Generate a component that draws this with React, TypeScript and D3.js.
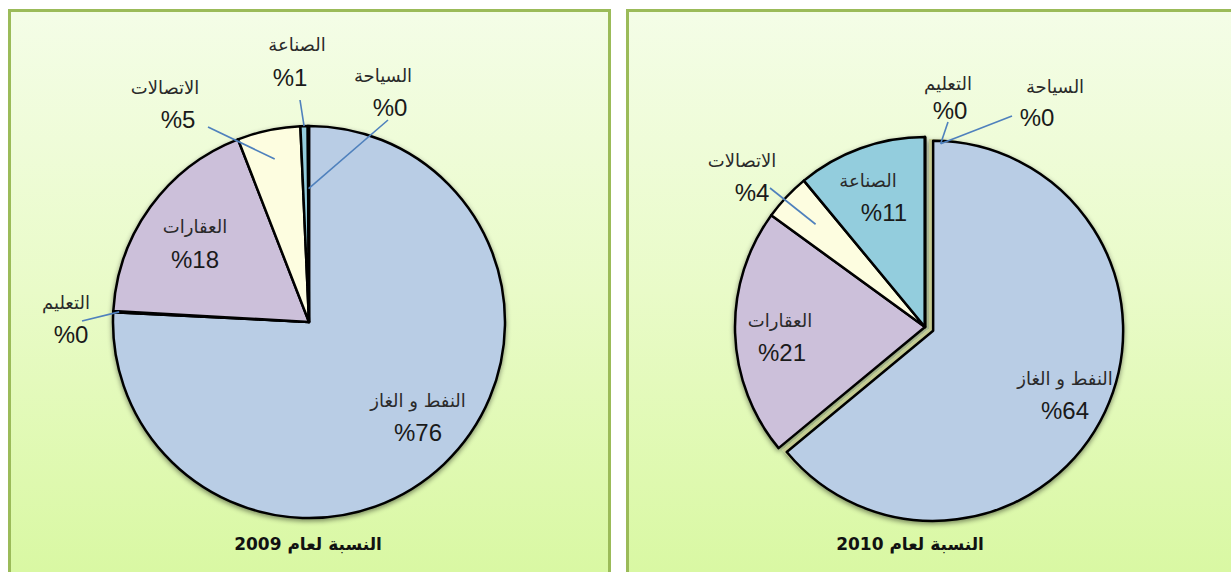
import React from "react";
import * as d3 from "d3";

// ---------- data ----------
const years = ["2009", "2010"];
const titlePrefix = "النسبة لعام";

const categories2009 = ["النفط و الغاز", "التعليم", "العقارات", "الاتصالات", "الصناعة", "السياحة"];
const values2009 = [75.8, 0.1, 18.2, 5.2, 0.6, 0.1];

const categories2010 = ["النفط و الغاز", "العقارات", "الاتصالات", "الصناعة", "التعليم", "السياحة"];
const values2010 = [64, 21, 4, 11, 0, 0];

const categoryColors: Record<string, string> = {
  "النفط و الغاز": "#b9cde5",
  "التعليم": "#c3d69b",
  "العقارات": "#ccc0da",
  "الاتصالات": "#fdfde0",
  "الصناعة": "#93cddd",
  "السياحة": "#8eb4e3",
};

// ---------- layout ----------
type Anchor = { slice: number; t: number; rf: number };
type LabelLayout = { name: [number, number]; pct: [number, number]; from?: [number, number]; anchor?: Anchor };

const panels = [
  {
    x: 8, w: 603, cx: 309, cy: 322, r: 196, title: [308, 545] as [number, number],
    categories: categories2009, values: values2009, explode: [0, 0, 0, 0, 0, 0],
    labels: [
      { name: [418, 402], pct: [418, 435] },
      { name: [66, 304], pct: [71, 337], from: [82, 321], anchor: { slice: 1, t: 0.5, rf: 0.97 } },
      { name: [195, 228], pct: [195, 262] },
      { name: [165, 89], pct: [178, 122], from: [208, 127], anchor: { slice: 3, t: 0.5, rf: 0.85 } },
      { name: [297, 46], pct: [290, 80], from: [300, 100], anchor: { slice: 4, t: 0.5, rf: 1.0 } },
      { name: [383, 77], pct: [390, 110], from: [388, 120], anchor: { slice: 5, t: 0.5, rf: 0.68 } },
    ] as LabelLayout[],
  },
  {
    x: 626, w: 620, cx: 925, cy: 327, r: 190, title: [910, 545] as [number, number],
    categories: categories2010, values: values2010, explode: [9, 0, 0, 0, 0, 0],
    labels: [
      { name: [1065, 380], pct: [1065, 413] },
      { name: [780, 322], pct: [782, 355] },
      { name: [742, 162], pct: [752, 195], from: [770, 188], anchor: { slice: 2, t: 0.5, rf: 0.79 } },
      { name: [868, 182], pct: [884, 215] },
      { name: [948, 85], pct: [950, 113], from: [948, 122], anchor: { slice: 0, t: 0.01, rf: 0.985 } },
      { name: [1055, 88], pct: [1037, 120], from: [1012, 116], anchor: { slice: 0, t: 0.01, rf: 0.985 } },
    ] as LabelLayout[],
  },
];

const polar = (a: number, r: number): [number, number] => [r * Math.sin(a), -r * Math.cos(a)];

export default function App() {
  return (
    <svg width={1231} height={572} style={{ position: "absolute", left: 0, top: 0 }}>
      <defs>
        <linearGradient id="bg" gradientUnits="userSpaceOnUse" x1="0" y1="10" x2="0" y2="572">
          <stop offset="0" stopColor="#f4fde7" />
          <stop offset="0.5" stopColor="#e9fbc8" />
          <stop offset="1" stopColor="#d9f8a3" />
        </linearGradient>
        <filter id="shadow" x="-20%" y="-20%" width="140%" height="140%">
          <feDropShadow dx="0" dy="2" stdDeviation="2.5" floodColor="#000" floodOpacity="0.45" />
        </filter>
      </defs>
      <rect x={0} y={0} width={1231} height={572} fill="#ffffff" />
      {panels.map((p, pi) => {
        const arcs = d3.pie<number>().sort(null).value((d) => d)(p.values);
        const arcGen = d3.arc<d3.PieArcDatum<number>>().innerRadius(0).outerRadius(p.r);
        const off = arcs.map((a, i) => polar((a.startAngle + a.endAngle) / 2, p.explode[i]));
        const order = arcs.map((_, i) => i).sort((a, b) => p.explode[a] - p.explode[b]);
        return (
          <g key={pi}>
            <rect x={p.x + 1.5} y={10.5} width={p.w - 3} height={620} fill="url(#bg)" stroke="#9bbb59" strokeWidth={3} />
            <g transform={`translate(${p.cx},${p.cy})`} filter="url(#shadow)">
              {arcs.map((a, i) =>
                p.explode[i] > 0 ? (
                  <path key={"u" + i} d={arcGen(a) || ""} transform={`translate(${off[i][0] * 0.5},${off[i][1] * 0.5})`} fill="#c4ca90" />
                ) : null
              )}
              {order.map((i) => (
                <path
                  key={i}
                  d={arcGen(arcs[i]) || ""}
                  transform={`translate(${off[i][0]},${off[i][1]})`}
                  fill={categoryColors[p.categories[i]]}
                  stroke="#000"
                  strokeWidth={2.5}
                  strokeLinejoin="round"
                />
              ))}
            </g>
            {p.labels.map((l, i) => {
              if (!l.from || !l.anchor) return null;
              const a = arcs[l.anchor.slice];
              const ang = a.startAngle + l.anchor.t * (a.endAngle - a.startAngle);
              const pt = polar(ang, p.r * l.anchor.rf);
              const o = off[l.anchor.slice];
              return (
                <line key={"l" + i} x1={l.from[0]} y1={l.from[1]} x2={p.cx + pt[0] + o[0]} y2={p.cy + pt[1] + o[1]} stroke="#4f81bd" strokeWidth={1.6} />
              );
            })}
            {p.labels.map((l, i) => (
              <g key={"t" + i}>
                <text x={l.name[0]} y={l.name[1]} textAnchor="middle" dominantBaseline="middle" direction="rtl"
                  fontFamily="DejaVu Sans" fontSize={18} fill="#2a2a2a">
                  {p.categories[i]}
                </text>
                <text x={l.pct[0]} y={l.pct[1]} textAnchor="middle" dominantBaseline="middle"
                  fontFamily="Liberation Sans" fontSize={24} fill="#1a1a1a">
                  {"%" + Math.round(p.values[i])}
                </text>
              </g>
            ))}
            <text x={p.title[0]} y={p.title[1]} textAnchor="middle" dominantBaseline="middle" direction="rtl"
              fontFamily="DejaVu Sans" fontWeight="bold" fontSize={17} fill="#111">
              {titlePrefix + " " + years[pi]}
            </text>
          </g>
        );
      })}
    </svg>
  );
}
